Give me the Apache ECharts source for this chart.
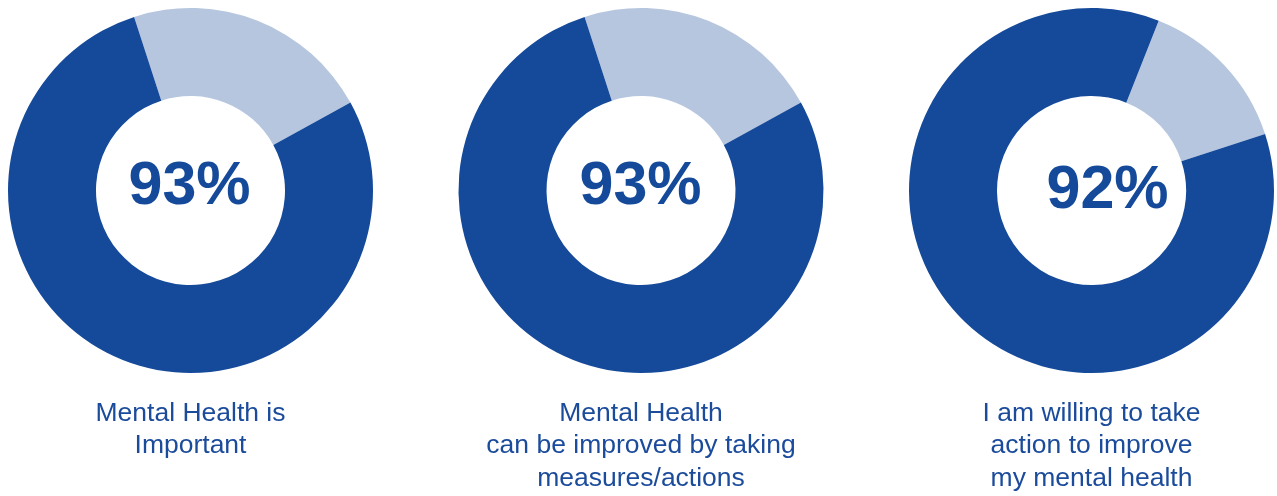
<!DOCTYPE html>
<html>
<head>
<meta charset="utf-8">
<script src="https://cdn.jsdelivr.net/npm/echarts@6/dist/echarts.min.js"></script>
<style>
html,body{margin:0;padding:0;background:#fff;}
#chart{width:1277px;height:496px;}
</style>
</head>
<body>
<div id="chart"></div>
<script>
// Data
const captions = [
  "Mental Health is\nImportant",
  "Mental Health\ncan be improved by taking\nmeasures/actions",
  "I am willing to take\naction to improve\nmy mental health"
];
const centerLabels = ["93%", "93%", "92%"];
const lightShare = [22, 22, 14];   // light-blue segment
const darkShare = [78, 78, 86];    // dark-blue segment
const startAngles = [108, 108, 68.4];

const DARK = '#154a9a';
const LIGHT = '#b6c6df';
const TEXT = '#1b4b9b';

const centersX = [190.5, 641, 1091.5];
const centerY = 190.5;
const textOffsets = [[-1, -3], [-0.5, -3], [16, 1]];

const chart = echarts.init(document.getElementById('chart'), null, {renderer: 'canvas'});

const series = captions.map((c, i) => ({
  type: 'pie',
  center: [centersX[i], centerY],
  radius: [94.5, 182.5],
  startAngle: startAngles[i],
  clockwise: true,
  silent: true,
  label: {show: false},
  labelLine: {show: false},
  itemStyle: {borderWidth: 0},
  emphasis: {disabled: true},
  data: [
    {name: 'light', value: lightShare[i], itemStyle: {color: LIGHT}},
    {name: 'dark', value: darkShare[i], itemStyle: {color: DARK}}
  ]
}));

const graphics = [];
captions.forEach((c, i) => {
  graphics.push({
    type: 'text',
    x: centersX[i] + textOffsets[i][0],
    y: centerY + textOffsets[i][1],
    silent: true,
    style: {
      text: centerLabels[i],
      font: 'bold 61px "Liberation Sans", Arial, sans-serif',
      fill: DARK,
      textAlign: 'center',
      textVerticalAlign: 'middle'
    }
  });
  graphics.push({
    type: 'text',
    x: centersX[i],
    y: 397,
    silent: true,
    style: {
      text: c,
      font: '26.5px "Liberation Sans", Arial, sans-serif',
      fill: TEXT,
      textAlign: 'center',
      textVerticalAlign: 'top',
      lineHeight: 32.5
    }
  });
});

chart.setOption({
  animation: false,
  backgroundColor: '#fff',
  series: series,
  graphic: graphics
});
</script>
</body>
</html>
